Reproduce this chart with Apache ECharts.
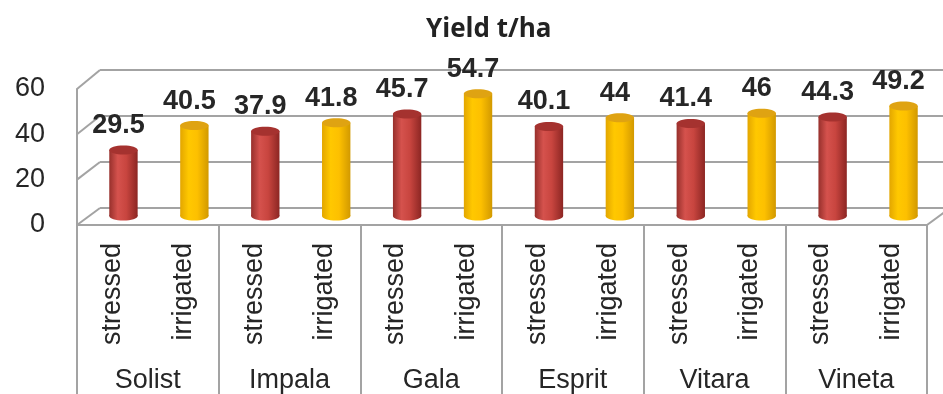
<!DOCTYPE html>
<html>
<head>
<meta charset="utf-8">
<title>Yield t/ha</title>
<script src="https://cdn.jsdelivr.net/npm/echarts@6/dist/echarts.min.js"></script>
<style>
  html, body { margin: 0; padding: 0; background: #fff; }
  #chart { width: 943px; height: 394px; }
</style>
</head>
<body>
<div id="chart"></div>
<script>
// data
const groups = ['Solist', 'Impala', 'Gala', 'Esprit', 'Vitara', 'Vineta'];
const treatments = ['stressed', 'irrigated'];
const stressed = [29.5, 37.9, 45.7, 40.1, 41.4, 44.3];
const irrigated = [40.5, 41.8, 54.7, 44, 46, 49.2];
const yTicks = [0, 20, 40, 60];

// 12 sub categories: stressed / irrigated for each variety
const subCats = groups.flatMap(() => treatments);

const gridColor = '#a3a3a3';
const textColor = '#262626';
const font = '"Liberation Sans", Arial, sans-serif';

// three planes of the fake 3d box: back wall, middle (bars), front (labels)
const BACK = { left: 100, right: 0, top: 70, bottom: 186 };
const MID = { left: 88, right: 4, top: 82, bottom: 178 };
const FRONT = { left: 77, right: 16, top: 89, bottom: 169 };

const colors = {
  stressed: {
    body: ['#97302c', '#d5524d', '#c8453f', '#8c2623'],
    top: '#a5322f'
  },
  irrigated: {
    body: ['#e3a600', '#ffc800', '#fdc000', '#d29900'],
    top: '#dfa312'
  }
};

function cylinder(c) {
  return function (params, api) {
    const x = api.value(0);
    const v = api.value(1);
    const top = api.coord([x, v]);
    const base = api.coord([x, 0]);
    const rx = api.size([1, 0])[0] * 0.2;
    const ry = 4.5;
    const grad = {
      type: 'linear', x: 0, y: 0, x2: 1, y2: 0,
      colorStops: [
        { offset: 0, color: c.body[0] },
        { offset: 0.3, color: c.body[1] },
        { offset: 0.6, color: c.body[2] },
        { offset: 1, color: c.body[3] }
      ]
    };
    return {
      type: 'group',
      children: [
        { type: 'ellipse', shape: { cx: base[0], cy: base[1], rx: rx, ry: ry }, style: { fill: grad } },
        { type: 'rect', shape: { x: top[0] - rx, y: top[1], width: rx * 2, height: base[1] - top[1] }, style: { fill: grad } },
        { type: 'ellipse', shape: { cx: top[0], cy: top[1], rx: rx, ry: ry }, style: { fill: c.top } },
        {
          type: 'text',
          style: {
            text: String(v), x: top[0] - 5, y: top[1] - 11,
            align: 'center', verticalAlign: 'bottom',
            fontFamily: font, fontWeight: 'bold', fontSize: 27, fill: textColor
          }
        }
      ]
    };
  };
}

const chart = echarts.init(document.getElementById('chart'));

chart.setOption({
  animation: false,
  title: {
    text: 'Yield t/ha',
    left: 421,
    top: 12,
    textStyle: { fontFamily: 'Open Sans', fontWeight: 'bold', fontSize: 26, color: '#222' }
  },
  grid: [
    Object.assign({}, MID),
    Object.assign({}, FRONT),
    Object.assign({}, BACK)
  ],
  xAxis: [
    { gridIndex: 0, type: 'category', data: subCats, show: false },
    {
      gridIndex: 1, type: 'category', data: subCats, position: 'bottom',
      axisLine: { show: false }, axisTick: { show: false },
      axisLabel: { interval: 0, rotate: 90, margin: 18, fontSize: 27, fontFamily: font, color: textColor }
    },
    {
      gridIndex: 1, type: 'category', data: groups, position: 'bottom',
      axisLine: { show: true, lineStyle: { color: gridColor, width: 2 } },
      axisTick: { show: true, interval: 0, length: 170, lineStyle: { color: gridColor, width: 2 } },
      axisLabel: { interval: 0, margin: 142, fontSize: 27, fontFamily: font, color: textColor }
    },
    { gridIndex: 2, type: 'value', min: 0, max: 1, show: false }
  ],
  yAxis: [
    { gridIndex: 0, type: 'value', min: 0, max: 60, interval: 20, show: false },
    {
      gridIndex: 1, type: 'value', min: 0, max: 60, interval: 20,
      axisLine: { show: true, lineStyle: { color: gridColor, width: 2 } },
      axisTick: { show: false },
      splitLine: { show: false },
      axisLabel: { margin: 32, fontSize: 27, fontFamily: font, color: textColor }
    },
    {
      gridIndex: 2, type: 'value', min: 0, max: 60, interval: 20,
      axisLine: { show: false }, axisTick: { show: false }, axisLabel: { show: false },
      splitLine: { show: true, lineStyle: { color: gridColor, width: 2 } }
    }
  ],
  series: [
    {
      name: 'stressed', type: 'custom', xAxisIndex: 0, yAxisIndex: 0,
      encode: { x: 0, y: 1 },
      renderItem: cylinder(colors.stressed),
      data: stressed.map((v, i) => [i * 2, v]),
      z: 5
    },
    {
      name: 'irrigated', type: 'custom', xAxisIndex: 0, yAxisIndex: 0,
      encode: { x: 0, y: 1 },
      renderItem: cylinder(colors.irrigated),
      data: irrigated.map((v, i) => [i * 2 + 1, v]),
      z: 5
    }
  ]
});

// diagonal edges joining the front plane to the back wall
const edges = yTicks.map(t => {
  const yf = chart.convertToPixel({ yAxisIndex: 1 }, t);
  const yb = chart.convertToPixel({ yAxisIndex: 2 }, t);
  return {
    type: 'line',
    shape: { x1: FRONT.left, y1: yf, x2: BACK.left, y2: yb },
    style: { stroke: gridColor, lineWidth: 2 }
  };
});
const yf0 = chart.convertToPixel({ yAxisIndex: 1 }, 0);
const yb0 = chart.convertToPixel({ yAxisIndex: 2 }, 0);
const rightX = 943 - FRONT.right;
edges.push({
  type: 'line',
  shape: { x1: rightX, y1: yf0, x2: rightX + (BACK.left - FRONT.left), y2: yb0 },
  style: { stroke: gridColor, lineWidth: 2 }
});
chart.setOption({ graphic: edges });
</script>
</body>
</html>
